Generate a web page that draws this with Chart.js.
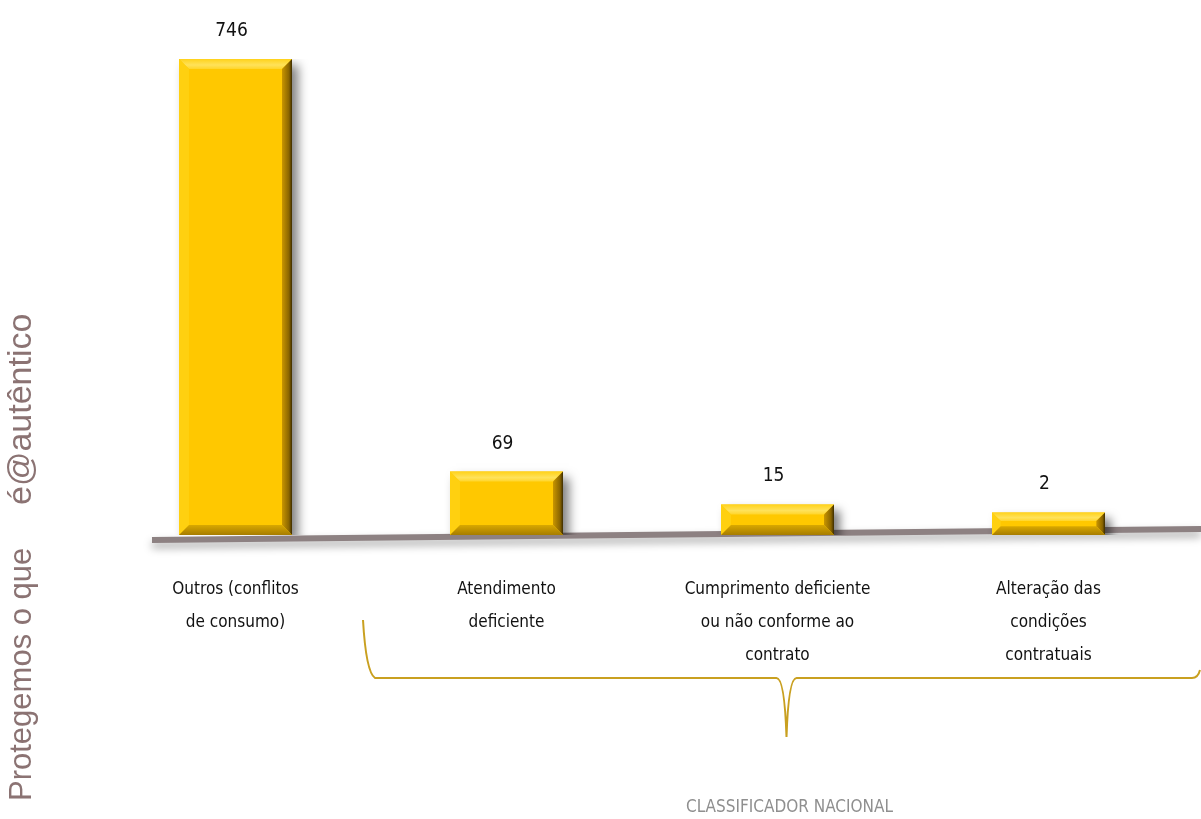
<!DOCTYPE html>
<html>
<head>
<meta charset="utf-8">
<script src="https://cdn.jsdelivr.net/npm/chart.js@4/dist/chart.umd.min.js"></script>
<style>
  html, body { margin: 0; padding: 0; background: #fff; }
  #wrap { width: 1201px; height: 819px; position: relative; }
</style>
</head>
<body>
<div id="wrap"><canvas id="chart"></canvas></div>
<script>
const categories = [
    ['Outros (conflitos', 'de consumo)'],
    ['Atendimento', 'deficiente'],
    ['Cumprimento deficiente', 'ou não conforme ao', 'contrato'],
    ['Alteração das', 'condições', 'contratuais'],
];
const values = [746, 69, 15, 2];
const axisTitle = 'CLASSIFICADOR NACIONAL';
const sideText = ['Protegemos o que', 'é@autêntico'];

const narrow = "'Liberation Sans Narrow', 'DejaVu Sans Condensed', 'Arial Narrow', sans-serif";

// gray floor line under the bars, slightly tilted
const floorPlugin = {
    id: 'floor',
    beforeDatasetsDraw(chart) {
        const { ctx, chartArea } = chart;
        const y0 = chartArea.bottom + 5;
        ctx.save();
        ctx.shadowColor = 'rgba(0,0,0,0.35)';
        ctx.shadowBlur = 8;
        ctx.shadowOffsetY = 5;
        ctx.strokeStyle = '#8d8182';
        ctx.lineWidth = 6;
        ctx.beginPath();
        ctx.moveTo(152, y0);
        ctx.lineTo(chart.width, y0 - 11);
        ctx.stroke();
        ctx.restore();
    },
};

// drop shadow + bevel on every bar
const bevelPlugin = {
    id: 'bevel',
    beforeDatasetDraw(chart) {
        const { ctx } = chart;
        ctx.save();
        ctx.shadowColor = 'rgba(0,0,0,0.5)';
        ctx.shadowBlur = 10;
        ctx.shadowOffsetX = 6;
        ctx.shadowOffsetY = 6;
    },
    afterDatasetDraw(chart) {
        const { ctx } = chart;
        ctx.restore();
        const meta = chart.getDatasetMeta(0);
        ctx.save();
        meta.data.forEach((bar) => {
            const l = bar.x - bar.width / 2;
            const r = bar.x + bar.width / 2;
            const t = bar.y;
            const btm = bar.base;
            const b = Math.min(10, (btm - t) / 2.6);
            const poly = (pts, fill) => {
                ctx.beginPath();
                ctx.moveTo(pts[0][0], pts[0][1]);
                pts.slice(1).forEach((p) => ctx.lineTo(p[0], p[1]));
                ctx.closePath();
                ctx.fillStyle = fill;
                ctx.fill();
            };
            const tg = ctx.createLinearGradient(0, t, 0, t + b);
            tg.addColorStop(0, '#ffd21a');
            tg.addColorStop(0.6, '#ffe25a');
            tg.addColorStop(1, '#ffd52a');
            poly([[l, t], [r, t], [r - b, t + b], [l + b, t + b]], tg);
            poly([[l, t], [l + b, t + b], [l + b, btm - b], [l, btm]], '#ffd010');
            const rg = ctx.createLinearGradient(r - b, 0, r, 0);
            rg.addColorStop(0, '#c99600');
            rg.addColorStop(0.7, '#8a6500');
            rg.addColorStop(1, '#3d2d00');
            poly([[r, t], [r, btm], [r - b, btm - b], [r - b, t + b]], rg);
            const bg = ctx.createLinearGradient(0, btm - b, 0, btm);
            bg.addColorStop(0, '#d9a800');
            bg.addColorStop(1, '#a67c00');
            poly([[l, btm], [r, btm], [r - b, btm - b], [l + b, btm - b]], bg);
        });
        ctx.restore();
    },
};

const valueLabelPlugin = {
    id: 'valueLabels',
    afterDatasetsDraw(chart) {
        const { ctx } = chart;
        const meta = chart.getDatasetMeta(0);
        ctx.save();
        ctx.font = `19px ${narrow}`;
        ctx.fillStyle = '#111';
        ctx.textAlign = 'center';
        ctx.textBaseline = 'middle';
        meta.data.forEach((bar, i) => {
            ctx.fillText(String(values[i]), bar.x - 4, bar.y - 28);
        });
        ctx.restore();
    },
};

// curly bracket grouping the last three categories, its caption, and the vertical side text
const decorPlugin = {
    id: 'decor',
    afterDraw(chart) {
        const { ctx, chartArea } = chart;
        const xs = chart.scales.x;
        const yTop = chartArea.bottom + 85;
        const yMid = chartArea.bottom + 143;
        const yTip = chartArea.bottom + 202;
        const left = (xs.getPixelForValue(0) + xs.getPixelForValue(1)) / 2 - 8;
        const tip = xs.getPixelForValue(2) + 9;
        const right = chart.width - 1;

        ctx.save();
        ctx.strokeStyle = '#c9a020';
        ctx.lineWidth = 2;
        ctx.beginPath();
        ctx.moveTo(left, yTop);
        ctx.quadraticCurveTo(left + 3, yMid - 6, left + 12, yMid);
        ctx.lineTo(tip - 10, yMid);
        ctx.quadraticCurveTo(tip - 2, yMid, tip, yTip);
        ctx.quadraticCurveTo(tip + 2, yMid, tip + 10, yMid);
        ctx.lineTo(right - 8, yMid);
        ctx.quadraticCurveTo(right - 2, yMid, right, yMid - 8);
        ctx.stroke();

        ctx.font = `17px ${narrow}`;
        ctx.fillStyle = '#8f8f8f';
        ctx.textAlign = 'center';
        ctx.textBaseline = 'middle';
        ctx.fillText(axisTitle, tip + 3, chart.height - 11);
        ctx.restore();

        ctx.save();
        ctx.translate(31, chart.height - 18);
        ctx.rotate(-Math.PI / 2);
        ctx.fillStyle = '#8b7373';
        ctx.textAlign = 'left';
        ctx.textBaseline = 'alphabetic';
        ctx.font = "31px 'Liberation Sans', Arial, sans-serif";
        ctx.fillText(sideText[0], 0, 0);
        ctx.font = "34px 'Liberation Sans', Arial, sans-serif";
        ctx.fillText(sideText[1], 296, 0);
        ctx.restore();
    },
};

new Chart(document.getElementById('chart'), {
    type: 'bar',
    data: {
        labels: categories,
        datasets: [{
            data: values,
            base: -35,
            backgroundColor: '#ffc800',
            borderWidth: 0,
            categoryPercentage: 0.834,
            barPercentage: 0.5,
        }],
    },
    options: {
        responsive: true,
        maintainAspectRatio: false,
        animation: false,
        events: [],
        layout: { padding: { left: 100, right: 17, top: 59, bottom: 0 } },
        scales: {
            x: {
                offset: true,
                grid: { display: false },
                border: { display: false },
                ticks: {
                    color: '#111',
                    font: { family: narrow, size: 17, lineHeight: 1.95 },
                    padding: 30,
                    maxRotation: 0,
                    autoSkip: false,
                },
                afterFit(scale) { scale.height = 284; },
            },
            y: {
                display: false,
                min: -35,
                max: 746,
            },
        },
        plugins: {
            legend: { display: false },
            tooltip: { enabled: false },
        },
    },
    plugins: [floorPlugin, bevelPlugin, valueLabelPlugin, decorPlugin],
});
</script>
</body>
</html>
